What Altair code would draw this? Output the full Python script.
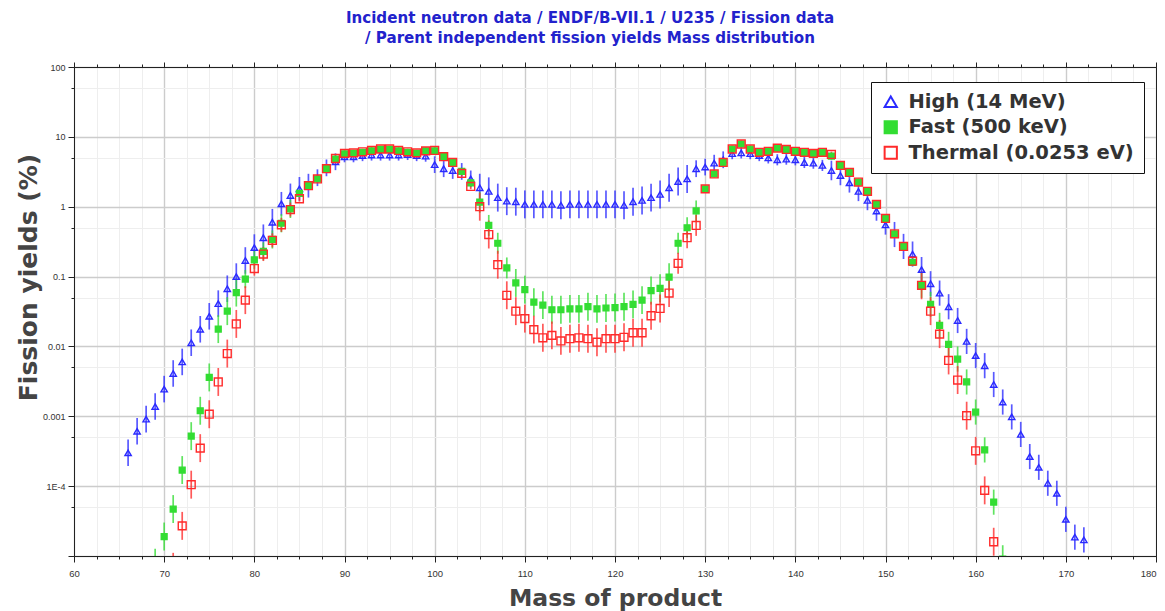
import altair as alt
import pandas as pd

SERIES = ["High (14 MeV)", "Fast (500 keV)", "Thermal (0.0253 eV)"]

# ---- High (14 MeV): masses 66..172 ----
high_mass = list(range(66, 173))
high_val = [
    3.0e-4, 6.1e-4, 9.1e-4, 1.38e-3, 2.45e-3, 4.1e-3, 6.0e-3, 0.0113, 0.0176, 0.027,   # 66-75
    0.041, 0.067, 0.10, 0.17, 0.26, 0.36, 0.60, 1.1, 1.45, 1.8,                       # 76-85
    2.0, 2.6, 3.6, 4.4, 5.2, 5.2, 5.4, 5.5, 5.5, 5.5,                                 # 86-95
    5.5, 5.6, 5.4, 5.3, 4.0, 3.5, 3.3, 3.2, 2.5, 1.87,                                # 96-105
    1.66, 1.35, 1.2, 1.18, 1.08, 1.08, 1.08, 1.08, 1.05, 1.08,                        # 106-115
    1.08, 1.08, 1.08, 1.08, 1.08, 1.05, 1.18, 1.23, 1.35, 1.5,                        # 116-125
    1.87, 2.3, 2.5, 3.5, 3.7, 4.2, 4.7, 5.75, 5.9, 5.75,                              # 126-135
    5.4, 5.0, 4.7, 4.8, 4.7, 4.3, 4.2, 3.9, 3.3, 2.8,                                 # 136-145
    2.2, 1.66, 1.23, 0.87, 0.55, 0.40, 0.27, 0.21, 0.126, 0.079,                      # 146-155
    0.058, 0.037, 0.0235, 0.0118, 0.0074, 0.0053, 0.00285, 0.0016, 9.8e-4, 5.5e-4,    # 156-165
    2.65e-4, 1.86e-4, 1.1e-4, 7.9e-5, 3.35e-5, 1.86e-5, 1.7e-5,                       # 166-172
]
high_err = [  # half-width of error bar, in decades
    0.19, 0.19, 0.19, 0.19, 0.19, 0.19, 0.19, 0.19, 0.19, 0.19,
    0.19, 0.19, 0.19, 0.19, 0.19, 0.19, 0.19, 0.17, 0.17, 0.17,
    0.17, 0.12, 0.12, 0.12, 0.08, 0.08, 0.08, 0.08, 0.08, 0.08,
    0.08, 0.08, 0.08, 0.08, 0.12, 0.12, 0.12, 0.12, 0.12, 0.2,
    0.2, 0.2, 0.2, 0.2, 0.2, 0.2, 0.2, 0.2, 0.2, 0.2,
    0.2, 0.2, 0.2, 0.2, 0.2, 0.2, 0.2, 0.2, 0.2, 0.2,
    0.2, 0.2, 0.2, 0.12, 0.12, 0.12, 0.12, 0.08, 0.08, 0.08,
    0.08, 0.08, 0.08, 0.08, 0.08, 0.08, 0.08, 0.08, 0.14, 0.14,
    0.14, 0.14, 0.14, 0.14, 0.14, 0.18, 0.18, 0.18, 0.18, 0.18,
    0.18, 0.18, 0.18, 0.18, 0.18, 0.18, 0.18, 0.18, 0.18, 0.18,
    0.18, 0.18, 0.18, 0.18, 0.18, 0.18, 0.18,
]

# ---- Fast (500 keV): masses 69..163 ----
fast_mass = list(range(69, 164))
fast_val = [
    8e-6, 1.9e-5, 4.7e-5, 1.7e-4, 5.2e-4, 1.2e-3, 3.6e-3, 0.0177, 0.032, 0.059,       # 69-78
    0.092, 0.174, 0.23, 0.34, 0.58, 0.93, 1.55, 2.0, 2.5, 3.5,                        # 79-88
    4.8, 5.7, 5.8, 6.0, 6.3, 6.6, 6.6, 6.3, 6.0, 5.8,                                 # 89-98
    6.3, 6.3, 5.2, 4.3, 3.2, 2.2, 1.16, 0.54, 0.30, 0.133,                            # 99-108
    0.081, 0.065, 0.043, 0.039, 0.0335, 0.0335, 0.0345, 0.0345, 0.037, 0.0345,        # 109-118
    0.0355, 0.036, 0.037, 0.040, 0.046, 0.063, 0.068, 0.098, 0.30, 0.50,              # 119-128
    0.87, 1.8, 2.95, 4.3, 6.7, 7.9, 6.7, 6.0, 6.2, 6.9,                               # 129-138
    6.6, 6.2, 6.0, 5.8, 6.0, 5.3, 3.9, 3.1, 2.25, 1.66,                               # 139-148
    1.08, 0.68, 0.41, 0.27, 0.16, 0.075, 0.040, 0.020, 0.0107, 0.0066,                # 149-158
    0.0031, 1.15e-3, 3.3e-4, 5.9e-5, 9e-6,                                            # 159-163
]
fast_err = [
    0.2, 0.2, 0.2, 0.2, 0.2, 0.2, 0.2, 0.2, 0.2, 0.2,
    0.13, 0.13, 0.13, 0.13, 0.13, 0.13, 0.05, 0.05, 0.05, 0.05,
    0.05, 0.05, 0.05, 0.05, 0.05, 0.05, 0.05, 0.05, 0.05, 0.05,
    0.05, 0.05, 0.05, 0.05, 0.05, 0.05, 0.15, 0.15, 0.15, 0.15,
    0.2, 0.2, 0.2, 0.2, 0.2, 0.2, 0.2, 0.2, 0.2, 0.2,
    0.2, 0.2, 0.2, 0.2, 0.2, 0.2, 0.2, 0.2, 0.15, 0.15,
    0.15, 0.05, 0.05, 0.05, 0.05, 0.05, 0.05, 0.05, 0.05, 0.05,
    0.05, 0.05, 0.05, 0.05, 0.05, 0.05, 0.05, 0.05, 0.05, 0.05,
    0.05, 0.05, 0.05, 0.05, 0.05, 0.18, 0.18, 0.18, 0.18, 0.18,
    0.18, 0.18, 0.18, 0.18, 0.2,
]

# ---- Thermal (0.0253 eV): masses 71..162 ----
thermal_mass = list(range(71, 163))
thermal_val = [
    7e-6, 2.7e-5, 1.05e-4, 3.5e-4, 1.07e-3, 3.1e-3, 7.9e-3, 0.021, 0.046, 0.13,       # 71-80
    0.21, 0.33, 0.55, 0.91, 1.3, 2.0, 2.5, 3.5, 4.9, 5.8,                             # 81-90
    5.9, 6.1, 6.4, 6.7, 6.7, 6.4, 6.1, 5.9, 6.3, 6.4,                                 # 91-100
    5.2, 4.3, 3.0, 1.95, 1.0, 0.40, 0.148, 0.054, 0.032, 0.025,                       # 101-110
    0.0174, 0.0133, 0.0144, 0.012, 0.0129, 0.0133, 0.0129, 0.0115, 0.0129, 0.0129,    # 111-120
    0.0135, 0.0157, 0.0157, 0.0275, 0.035, 0.058, 0.155, 0.36, 0.54, 1.8,             # 121-130
    2.95, 4.3, 6.7, 7.9, 6.7, 6.0, 6.2, 6.9, 6.6, 6.2,                                # 131-140
    6.0, 5.8, 6.0, 5.6, 3.9, 3.1, 2.25, 1.66, 1.08, 0.68,                             # 141-150
    0.41, 0.27, 0.166, 0.075, 0.032, 0.015, 0.0063, 0.0033, 1.02e-3, 3.2e-4,          # 151-160
    8.7e-5, 1.6e-5,                                                                   # 161-162
]
thermal_err = [
    0.2, 0.2, 0.2, 0.2, 0.2, 0.2, 0.2, 0.2, 0.2, 0.1,
    0.1, 0.1, 0.1, 0.1, 0.04, 0.04, 0.04, 0.04, 0.04, 0.04,
    0.04, 0.04, 0.04, 0.04, 0.04, 0.04, 0.04, 0.04, 0.04, 0.04,
    0.04, 0.04, 0.04, 0.04, 0.2, 0.2, 0.2, 0.2, 0.2, 0.2,
    0.2, 0.2, 0.2, 0.2, 0.2, 0.2, 0.2, 0.2, 0.2, 0.2,
    0.2, 0.2, 0.2, 0.2, 0.2, 0.2, 0.15, 0.15, 0.15, 0.04,
    0.04, 0.04, 0.04, 0.04, 0.04, 0.04, 0.04, 0.04, 0.04, 0.04,
    0.04, 0.04, 0.04, 0.04, 0.04, 0.04, 0.04, 0.04, 0.04, 0.04,
    0.04, 0.04, 0.04, 0.2, 0.2, 0.2, 0.2, 0.2, 0.2, 0.2,
    0.2, 0.2,
]

rows = []
for name, ms, vs, es in [
    (SERIES[0], high_mass, high_val, high_err),
    (SERIES[1], fast_mass, fast_val, fast_err),
    (SERIES[2], thermal_mass, thermal_val, thermal_err),
]:
    for m, v, e in zip(ms, vs, es):
        rows.append({"series": name, "mass": m, "value": v,
                     "lo": v / 10 ** e, "hi": v * 10 ** e})
df = pd.DataFrame(rows)

BLUE, GREEN, RED = "#2a2aff", "#33dd33", "#ff2a2a"
COLORS = [BLUE, GREEN, RED]
SIZES = [40, 34, 62]

x_ticks = [60 + 2.5 * i for i in range(49)]
y_ticks = []
for k in range(-5, 3):
    y_ticks.append(10.0 ** k)
    if k < 2:
        y_ticks.append(5 * 10.0 ** k)

is_major_x = "datum.value % 10 === 0"
is_major_y = "abs(log(datum.value)/LN10 - round(log(datum.value)/LN10)) < 0.01"

x_scale = alt.Scale(domain=[60, 180], nice=False, zero=False)
y_scale = alt.Scale(type="log", domain=[1e-5, 100], nice=False)

x_axis_main = alt.Axis(
    values=x_ticks, orient="bottom", title="Mass of product",
    labelExpr=f"{is_major_x} ? datum.label : ''",
    labelFont="Liberation Sans", labelFontSize=9.5, labelColor="#333", labelPadding=6,
    labelFlush=False, labelOverlap=False,
    labelAlign={"condition": {"test": "datum.value >= 180", "value": "right"}, "value": "center"},
    grid=True,
    gridColor={"condition": {"test": is_major_x, "value": "#cccccc"}, "value": "#eeeeee"},
    gridWidth={"condition": {"test": is_major_x, "value": 1.4}, "value": 1},
    tickColor="#222",
    tickSize={"condition": {"test": is_major_x, "value": 6}, "value": 3},
    domainColor="#222",
    titleFont="DejaVu Sans", titleFontSize=23.5, titleFontWeight="bold", titleColor="#444",
    titleBaseline="middle", titleY=42,
)
y_axis_main = alt.Axis(
    values=y_ticks, orient="left", title="Fission yields (%)",
    labelExpr=(f"({is_major_y}) ? (datum.value < 0.00005 ? '' : "
               "(datum.value < 0.0005 ? '1E-4' : format(datum.value, '~g'))) : ''"),
    labelFont="Liberation Sans", labelFontSize=9, labelColor="#333", labelPadding=3,
    labelFlush=False, labelOverlap=False,
    grid=True,
    gridColor={"condition": {"test": is_major_y, "value": "#cccccc"}, "value": "#eeeeee"},
    gridWidth={"condition": {"test": is_major_y, "value": 1.4}, "value": 1},
    tickColor="#222",
    tickSize={"condition": {"test": is_major_y, "value": 6}, "value": 3},
    domainColor="#222",
    titleFont="DejaVu Sans", titleFontSize=25, titleFontWeight="bold", titleColor="#444",
    titleAngle=-90, titleBaseline="middle", titleAlign="center", titleX=-46, titleY=210,
)
x_axis_top = alt.Axis(values=x_ticks, orient="top", title=None, labels=False, grid=False,
                      tickColor="#222", domainColor="#222",
                      tickSize={"condition": {"test": is_major_x, "value": 5}, "value": 3})
y_axis_right = alt.Axis(values=y_ticks, orient="right", title=None, labels=False, grid=False,
                        tickColor="#222", domainColor="#222",
                        tickSize={"condition": {"test": is_major_y, "value": 5}, "value": 3})

# error bars: one layer per series, fixed colour (all share the main axes)
err_layers = []
for i, name in enumerate(SERIES):
    err_layers.append(
        alt.Chart(df).transform_filter(alt.datum.series == name)
        .mark_rule(strokeWidth=1.7, opacity=0.78, clip=True, color=COLORS[i])
        .encode(
            x=alt.X("mass:Q", scale=x_scale, axis=x_axis_main),
            y=alt.Y("lo:Q", scale=y_scale, axis=y_axis_main),
            y2="hi:Q",
        )
    )

legend = alt.Legend(
    title=None, orient="none", legendX=797, legendY=15,
    labelFont="DejaVu Sans", labelFontSize=19.5, labelFontWeight="bold", labelColor="#333",
    labelOffset=8, symbolSize=150, symbolStrokeWidth=2, rowPadding=4.5,
    padding=10, strokeColor="#111", fillColor="white", cornerRadius=0,
    labelLimit=400,
)

pt_layers = []
for i, name in enumerate(SERIES):
    pt_layers.append(
        alt.Chart(df).transform_filter(alt.datum.series == name)
        .mark_point(filled=False, strokeWidth=1.4, opacity=1, clip=True, size=SIZES[i])
        .encode(
            x=alt.X("mass:Q", scale=x_scale, axis=x_axis_top),
            y=alt.Y("value:Q", scale=y_scale, axis=y_axis_right),
            color=alt.Color("series:N", scale=alt.Scale(domain=SERIES, range=COLORS),
                            legend=legend),
            fill=alt.Fill("series:N", scale=alt.Scale(domain=SERIES,
                                                      range=["transparent", GREEN, "transparent"]),
                          legend=legend),
            shape=alt.Shape("series:N", scale=alt.Scale(domain=SERIES,
                                                        range=["triangle-up", "square", "square"]),
                            legend=legend),
        )
    )

errbars = alt.layer(*err_layers)
points = alt.layer(*pt_layers)

chart = alt.layer(errbars, points).resolve_axis(x="independent", y="independent").properties(
    width=1082, height=489,
    autosize=alt.AutoSizeParams(type="none"),
    padding={"left": 66, "top": 59, "right": 1, "bottom": 56},
    background="white",
    title=alt.TitleParams(
        text=["Incident neutron data / ENDF/B-VII.1 / U235 / Fission data",
              "/ Parent independent fission yields Mass distribution"],
        font="DejaVu Sans", fontSize=15.1, fontWeight="bold", color="#2222cc",
        anchor="middle", dx=-25, offset=15, lineHeight=20,
    ),
).configure_view(stroke="#222", strokeWidth=1)

chart.save("out.html", embed_options={"renderer": "svg", "actions": False})
